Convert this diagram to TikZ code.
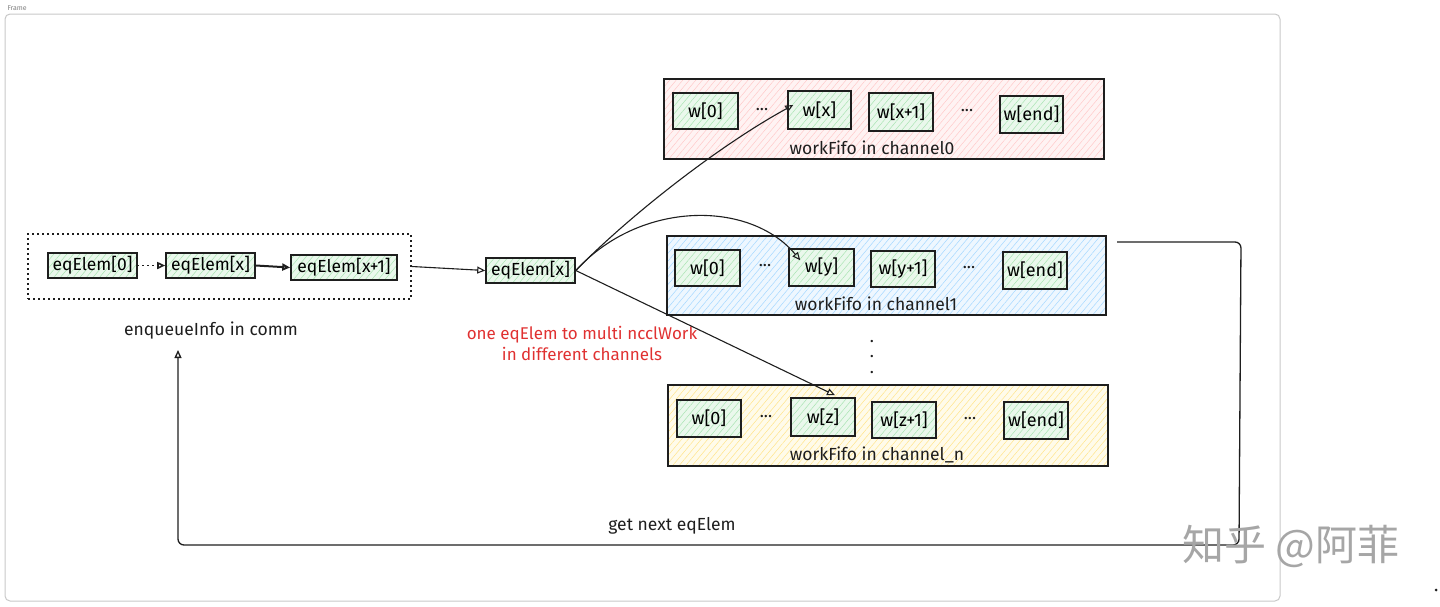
\documentclass[tikz,border=0pt]{standalone}
\usepackage{fontspec}
\setmainfont{Fira Sans}
\newfontfamily\cjkfont{Noto Sans CJK SC}
\usetikzlibrary{arrows.meta,patterns.meta,calc}
\definecolor{pinkfill}{HTML}{FFF3F3}
\definecolor{pinkline}{HTML}{FFC9C9}
\definecolor{bluefill}{HTML}{EEF7FF}
\definecolor{blueline}{HTML}{A5D8FF}
\definecolor{yelfill}{HTML}{FFFBEA}
\definecolor{yelline}{HTML}{FFE48A}
\definecolor{grnfill}{HTML}{EAF8EC}
\definecolor{grnline}{HTML}{A9E4B2}
\definecolor{inkc}{HTML}{1E1E1E}
\definecolor{redc}{HTML}{E03131}
\definecolor{framec}{HTML}{C8C8C8}
\tikzset{
  hatch/.style 2 args={preaction={fill=#1},pattern={Lines[angle=50,distance=5pt,line width=0.5pt]},pattern color=#2},
  chan/.style 2 args={draw=inkc,line width=1.1pt,hatch={#1}{#2},minimum width=440pt,minimum height=80pt,inner sep=0pt},
  wbox/.style={draw=inkc,line width=1.5pt,hatch={grnfill}{grnline},inner sep=0pt,font=\fontsize{18}{20}\selectfont},
  elem/.style={draw=inkc,line width=1.6pt,hatch={grnfill}{grnline},minimum height=25pt,inner sep=0pt,font=\fontsize{17.5}{19}\selectfont},
  lbl/.style={font=\fontsize{17.5}{20}\selectfont,text=inkc},
  dots/.style={font=\fontsize{17}{19}\selectfont,text=inkc},
  arr/.style={draw=inkc,line width=1.1pt,-{Triangle[open,length=8pt,width=7pt]}},
}
\begin{document}
\begin{tikzpicture}[x=1pt,y=-1pt]
\useasboundingbox (0,0) rectangle (1440,606);
% frame
\draw[framec,line width=1pt,rounded corners=5pt] (5,14) rectangle (1280,601);
\node[font=\fontsize{7}{8}\selectfont,text=gray,anchor=west] (framelbl) at (4,8) {Frame};

% enqueue box
\node[draw=inkc,line width=1.8pt,dash pattern=on 1.8pt off 3.2pt,minimum width=383pt,minimum height=65pt] (dbox) at (219.5,266.5) {};
\node[elem,minimum width=89pt] (eq0) at (92.5,265.5) {eqElem[0]};
\node[elem,minimum width=89pt] (eqx) at (210.5,265.5) {eqElem[x]};
\node[elem,minimum width=106pt] (eqx1) at (344,267.5) {eqElem[x+1]};
\draw[arr,dash pattern=on 1.8pt off 3.2pt,line width=1.6pt] (eq0.east) -- (eqx.west);
\draw[arr,line width=2pt] (eqx.east) -- (eqx1.west);
\node[lbl] (enq) at (211,331) {enqueueInfo in comm};

\node[elem,minimum width=89pt] (eqX) at (530.5,270.5) {eqElem[x]};
\draw[arr] (dbox.east) -- (eqX.west);

% channel 0
\node[chan={pinkfill}{pinkline}] (c0) at (884,119) {};
\node[wbox,minimum width=65pt,minimum height=36pt] (w00) at (705.5,111) {w[0]};
\node[wbox,minimum width=63pt,minimum height=38pt] (w0x) at (819.5,110) {w[x]};
\node[wbox,minimum width=64pt,minimum height=38pt] (w0x1) at (901,112) {w[x+1]};
\node[wbox,minimum width=63pt,minimum height=37pt] (w0e) at (1031.5,114.5) {w[end]};
\node[dots] (d01) at (762,110) {...};
\node[dots] (d02) at (967,111) {...};
\node[lbl] (c0l) at (872,148) {workFifo in channel0};

% channel 1
\node[chan={bluefill}{blueline},minimum width=439pt,minimum height=79pt] (c1) at (886.5,275.5) {};
\node[wbox,minimum width=65pt,minimum height=36pt] (w10) at (707.5,268) {w[0]};
\node[wbox,minimum width=65pt,minimum height=37pt] (w1y) at (821.5,267.5) {w[y]};
\node[wbox,minimum width=64pt,minimum height=36pt] (w1y1) at (903,269) {w[y+1]};
\node[wbox,minimum width=64pt,minimum height=37pt] (w1e) at (1035,270.5) {w[end]};
\node[dots] (d11) at (765,266) {...};
\node[dots] (d12) at (969,268) {...};
\node[lbl] (c1l) at (876,304) {workFifo in channel1};

% vertical dots
\node[dots] (vd1) at (872,342) {.};
\node[dots] (vd2) at (872,357) {.};
\node[dots] (vd3) at (872,373) {.};

% channel n
\node[chan={yelfill}{yelline},minimum height=81pt] (cn) at (888,425.5) {};
\node[wbox,minimum width=64pt,minimum height=37pt] (wn0) at (709,418.5) {w[0]};
\node[wbox,minimum width=64pt,minimum height=38pt] (wnz) at (823,417) {w[z]};
\node[wbox,minimum width=64pt,minimum height=36pt] (wnz1) at (904,420) {w[z+1]};
\node[wbox,minimum width=64pt,minimum height=37pt] (wne) at (1036,420.5) {w[end]};
\node[dots] (dn1) at (766,417) {...};
\node[dots] (dn2) at (970,419) {...};
\node[lbl] (cnl) at (877,455) {workFifo in channel\_n};

% red note
\node[font=\fontsize{17}{21}\selectfont,text=redc,align=center] (note) at (582,343) {one eqElem to multi ncclWork\\in different channels};

% fan-out arrows
\draw[arr] (eqX.east) .. controls (630,215) and (720,145) .. ($(w0x.west)+(6,-5)$);
\draw[arr] (eqX.east) .. controls (640,200) and (750,200) .. ($(w1y.north west)+(12,12)$);
\draw[arr] (eqX.east) -- ($(wnz.north)+(12,-2)$);

% feedback
\coordinate (fbs) at (1117,242);
\coordinate (fbt) at (1241,242);
\coordinate (fbb) at (1239,545);
\coordinate (fbl) at (178,545);
\coordinate (fbe) at (178,350);
\draw[arr,line width=1.3pt,rounded corners=6pt] (fbs) -- (fbt) -- (fbb) -- (fbl) -- (fbe);
\node[lbl] (gne) at (672,526) {get next eqElem};

% watermark
\node[font=\cjkfont\fontsize{42}{46}\selectfont,text=gray!70] (wm) at (1291,546) {知乎 @阿菲};
\fill[inkc] (1436,590) circle (1.5) coordinate (pt);
\end{tikzpicture}
\end{document}
